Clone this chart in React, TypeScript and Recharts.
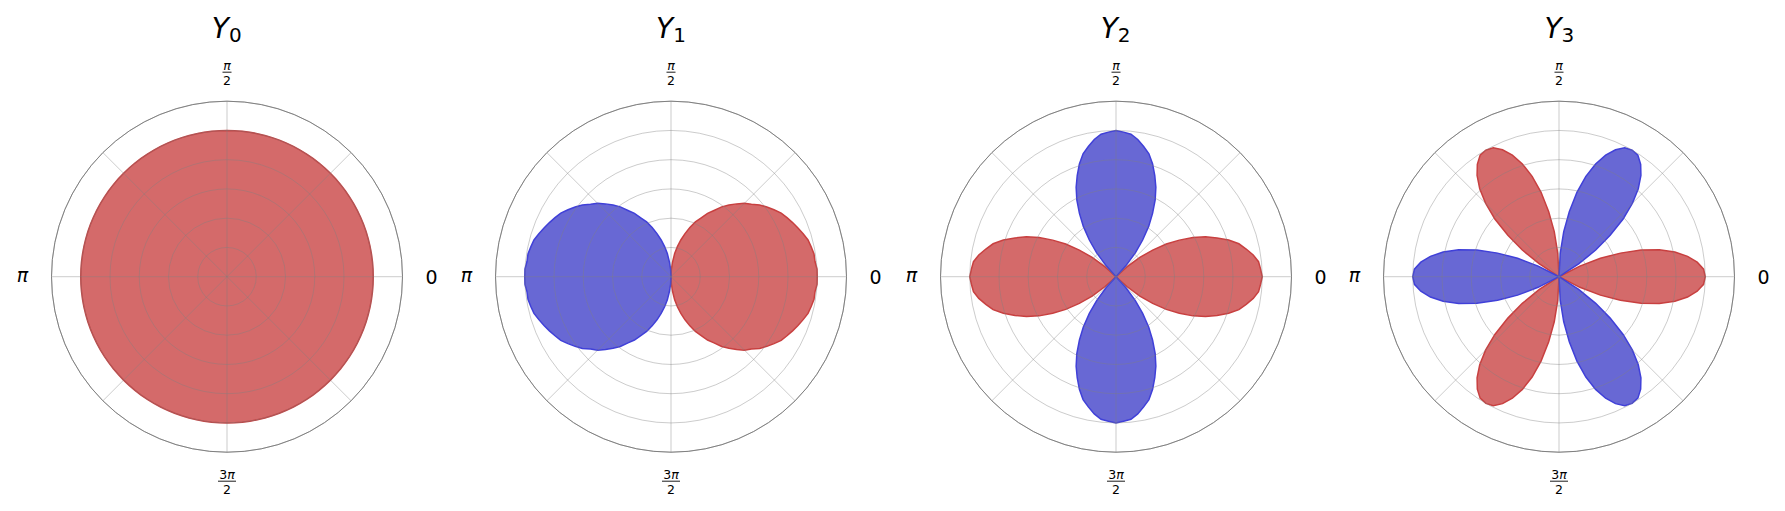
import React from 'react';
import { RadarChart, Radar, PolarGrid, PolarAngleAxis, PolarRadiusAxis } from 'recharts';

// angles in degrees, 3 degree steps
const ANGLES = [
  0, 3, 6, 9, 12, 15, 18, 21, 24, 27, 30, 33, 36, 39, 42, 45, 48, 51, 54, 57, 60, 63, 66, 69, 72, 75, 78, 81, 84, 87,
  90, 93, 96, 99, 102, 105, 108, 111, 114, 117, 120, 123, 126, 129, 132, 135, 138, 141, 144, 147, 150, 153, 156, 159, 162, 165, 168, 171, 174, 177,
  180, 183, 186, 189, 192, 195, 198, 201, 204, 207, 210, 213, 216, 219, 222, 225, 228, 231, 234, 237, 240, 243, 246, 249, 252, 255, 258, 261, 264, 267,
  270, 273, 276, 279, 282, 285, 288, 291, 294, 297, 300, 303, 306, 309, 312, 315, 318, 321, 324, 327, 330, 333, 336, 339, 342, 345, 348, 351, 354, 357,
];

// signed values (sign -> colour)
const Y0 = [
  1, 1, 1, 1, 1, 1, 1, 1, 1, 1, 1, 1, 1, 1, 1, 1, 1, 1, 1, 1, 1, 1, 1, 1, 1, 1, 1, 1, 1, 1,
  1, 1, 1, 1, 1, 1, 1, 1, 1, 1, 1, 1, 1, 1, 1, 1, 1, 1, 1, 1, 1, 1, 1, 1, 1, 1, 1, 1, 1, 1,
  1, 1, 1, 1, 1, 1, 1, 1, 1, 1, 1, 1, 1, 1, 1, 1, 1, 1, 1, 1, 1, 1, 1, 1, 1, 1, 1, 1, 1, 1,
  1, 1, 1, 1, 1, 1, 1, 1, 1, 1, 1, 1, 1, 1, 1, 1, 1, 1, 1, 1, 1, 1, 1, 1, 1, 1, 1, 1, 1, 1,
];

const Y1 = [
  1, 1, 0.99, 0.99, 0.98, 0.97, 0.95, 0.93, 0.91, 0.89, 0.87, 0.84, 0.81, 0.78, 0.74, 0.71, 0.67, 0.63, 0.59, 0.54, 0.5, 0.45, 0.41, 0.36, 0.31, 0.26, 0.21, 0.16, 0.1, 0.05,
  0, -0.05, -0.1, -0.16, -0.21, -0.26, -0.31, -0.36, -0.41, -0.45, -0.5, -0.54, -0.59, -0.63, -0.67, -0.71, -0.74, -0.78, -0.81, -0.84, -0.87, -0.89, -0.91, -0.93, -0.95, -0.97, -0.98, -0.99, -0.99, -1,
  -1, -1, -0.99, -0.99, -0.98, -0.97, -0.95, -0.93, -0.91, -0.89, -0.87, -0.84, -0.81, -0.78, -0.74, -0.71, -0.67, -0.63, -0.59, -0.54, -0.5, -0.45, -0.41, -0.36, -0.31, -0.26, -0.21, -0.16, -0.1, -0.05,
  0, 0.05, 0.1, 0.16, 0.21, 0.26, 0.31, 0.36, 0.41, 0.45, 0.5, 0.54, 0.59, 0.63, 0.67, 0.71, 0.74, 0.78, 0.81, 0.84, 0.87, 0.89, 0.91, 0.93, 0.95, 0.97, 0.98, 0.99, 0.99, 1,
];

const Y2 = [
  1, 0.99, 0.98, 0.95, 0.91, 0.87, 0.81, 0.74, 0.67, 0.59, 0.5, 0.41, 0.31, 0.21, 0.1, 0, -0.1, -0.21, -0.31, -0.41, -0.5, -0.59, -0.67, -0.74, -0.81, -0.87, -0.91, -0.95, -0.98, -0.99,
  -1, -0.99, -0.98, -0.95, -0.91, -0.87, -0.81, -0.74, -0.67, -0.59, -0.5, -0.41, -0.31, -0.21, -0.1, 0, 0.1, 0.21, 0.31, 0.41, 0.5, 0.59, 0.67, 0.74, 0.81, 0.87, 0.91, 0.95, 0.98, 0.99,
  1, 0.99, 0.98, 0.95, 0.91, 0.87, 0.81, 0.74, 0.67, 0.59, 0.5, 0.41, 0.31, 0.21, 0.1, 0, -0.1, -0.21, -0.31, -0.41, -0.5, -0.59, -0.67, -0.74, -0.81, -0.87, -0.91, -0.95, -0.98, -0.99,
  -1, -0.99, -0.98, -0.95, -0.91, -0.87, -0.81, -0.74, -0.67, -0.59, -0.5, -0.41, -0.31, -0.21, -0.1, 0, 0.1, 0.21, 0.31, 0.41, 0.5, 0.59, 0.67, 0.74, 0.81, 0.87, 0.91, 0.95, 0.98, 0.99,
];

const Y3 = [
  1, 0.99, 0.95, 0.89, 0.81, 0.71, 0.59, 0.45, 0.31, 0.16, 0, -0.16, -0.31, -0.45, -0.59, -0.71, -0.81, -0.89, -0.95, -0.99, -1, -0.99, -0.95, -0.89, -0.81, -0.71, -0.59, -0.45, -0.31, -0.16, 0, 0.16, 0.31, 0.45, 0.59, 0.71, 0.81, 0.89, 0.95, 0.99,
  1, 0.99, 0.95, 0.89, 0.81, 0.71, 0.59, 0.45, 0.31, 0.16, 0, -0.16, -0.31, -0.45, -0.59, -0.71, -0.81, -0.89, -0.95, -0.99, -1, -0.99, -0.95, -0.89, -0.81, -0.71, -0.59, -0.45, -0.31, -0.16, 0, 0.16, 0.31, 0.45, 0.59, 0.71, 0.81, 0.89, 0.95, 0.99,
  1, 0.99, 0.95, 0.89, 0.81, 0.71, 0.59, 0.45, 0.31, 0.16, 0, -0.16, -0.31, -0.45, -0.59, -0.71, -0.81, -0.89, -0.95, -0.99, -1, -0.99, -0.95, -0.89, -0.81, -0.71, -0.59, -0.45, -0.31, -0.16, 0, 0.16, 0.31, 0.45, 0.59, 0.71, 0.81, 0.89, 0.95, 0.99,
];

const SERIES = [Y0, Y1, Y2, Y3];
const SUBSCRIPTS = ['0', '1', '2', '3'];

const TICK_ANGLES = [0, 90, 180, 270];
const TICK_NUM = ['0', 'π', 'π', '3π'];
const TICK_DEN = ['', '2', '', '2'];

const GRID_ANGLES = [0, 45, 90, 135, 180, 225, 270, 315];
const RING_VALUES = [0.2, 0.4, 0.6, 0.8, 1.0, 1.2];
const R_MAX = 1.2;

const FONT = '"DejaVu Sans", sans-serif';
const W = 444;
const H = 511;
const CX = 222;
const CY = 276.7;
const R = 175.5;
const LABEL_R = 204.5;
const CENTERS = [226.7, 671, 1115.6, 1559.4];

const RED = '#cc5050';
const BLUE = '#4d4dcc';

// only the four cardinal angles get a label
function AngleTick(props: any) {
  const a = Number(props.payload?.value);
  const i = TICK_ANGLES.indexOf(a);
  if (i < 0) return <g />;
  const rad = (a * Math.PI) / 180;
  const x = CX + LABEL_R * Math.cos(rad);
  const y = CY - LABEL_R * Math.sin(rad);
  const num = TICK_NUM[i];
  const den = TICK_DEN[i];
  if (!den) {
    const isPi = num === 'π';
    return (
      <text x={x} y={y} dy={isPi ? '0.28em' : '0.36em'} textAnchor="middle" fontSize={19}
        fontFamily={FONT} fontStyle={isPi ? 'italic' : 'normal'} fill="#000">
        {num}
      </text>
    );
  }
  const barW = num.length > 1 ? 18 : 9;
  return (
    <g>
      <text x={x} y={y - 2.3} textAnchor="middle" fontSize={12.5} fontFamily={FONT} fill="#000">
        {num.length > 1 && <tspan>{num.slice(0, 1)}</tspan>}
        <tspan fontStyle="italic">π</tspan>
      </text>
      <line x1={x - barW / 2} x2={x + barW / 2} y1={y} y2={y} stroke="#000" strokeWidth={0.9} />
      <text x={x} y={y + 12.8} textAnchor="middle" fontSize={12.5} fontFamily={FONT} fill="#000">
        {den}
      </text>
    </g>
  );
}

function Harmonic({ values }: { values: number[] }) {
  const data = ANGLES.map((a, i) => ({
    angle: a,
    pos: Math.max(0, values[i]),
    neg: Math.max(0, -values[i]),
  }));
  const hasNeg = values.some((v) => v < 0);
  const ringPx = RING_VALUES.map((v) => (v / R_MAX) * R);
  return (
    <RadarChart width={W} height={H} data={data} cx={CX} cy={CY} outerRadius={R}
      startAngle={0} endAngle={360} margin={{ top: 0, right: 0, bottom: 0, left: 0 }}>
      <PolarRadiusAxis type="number" domain={[0, R_MAX]} tick={false} axisLine={false} />
      <PolarAngleAxis dataKey="angle" type="number" domain={[0, 360]} ticks={TICK_ANGLES}
        axisLineType="circle" tickLine={false} axisLine={false} tick={AngleTick} />
      <Radar dataKey="pos" fill={RED} fillOpacity={0.85} stroke="#c84040" strokeWidth={1.5}
        dot={false} isAnimationActive={false} />
      {hasNeg && (
        <Radar dataKey="neg" fill={BLUE} fillOpacity={0.85} stroke="#4040d8" strokeWidth={1.5}
          dot={false} isAnimationActive={false} />
      )}
      {/* grid sits above the fills, like matplotlib */}
      <PolarGrid gridType="circle" polarAngles={GRID_ANGLES} polarRadius={ringPx}
        stroke="#808080" strokeOpacity={0.4} {...({ zIndex: 600 } as any)} />
      <PolarGrid gridType="circle" polarAngles={[]} polarRadius={[R]} radialLines={false}
        stroke="#808080" strokeOpacity={1} {...({ zIndex: 600 } as any)} />
    </RadarChart>
  );
}

export default function App() {
  return (
    <div style={{ position: 'absolute', left: 0, top: 0, width: 1785, height: 511, background: '#fff' }}>
      {SERIES.map((vals, k) => (
        <div key={k} style={{ position: 'absolute', left: CENTERS[k] - CX, top: 0, width: W, height: H }}>
          <Harmonic values={vals} />
        </div>
      ))}
      <svg width={1785} height={511} style={{ position: 'absolute', left: 0, top: 0, pointerEvents: 'none' }}>
        {SUBSCRIPTS.map((s, k) => (
          <text key={k} x={CENTERS[k]} y={38} textAnchor="middle" fontFamily={FONT} fill="#000">
            <tspan fontSize={28} fontStyle="italic">Y</tspan>
            <tspan fontSize={20} dy={4.3}>{s}</tspan>
          </text>
        ))}
      </svg>
    </div>
  );
}
